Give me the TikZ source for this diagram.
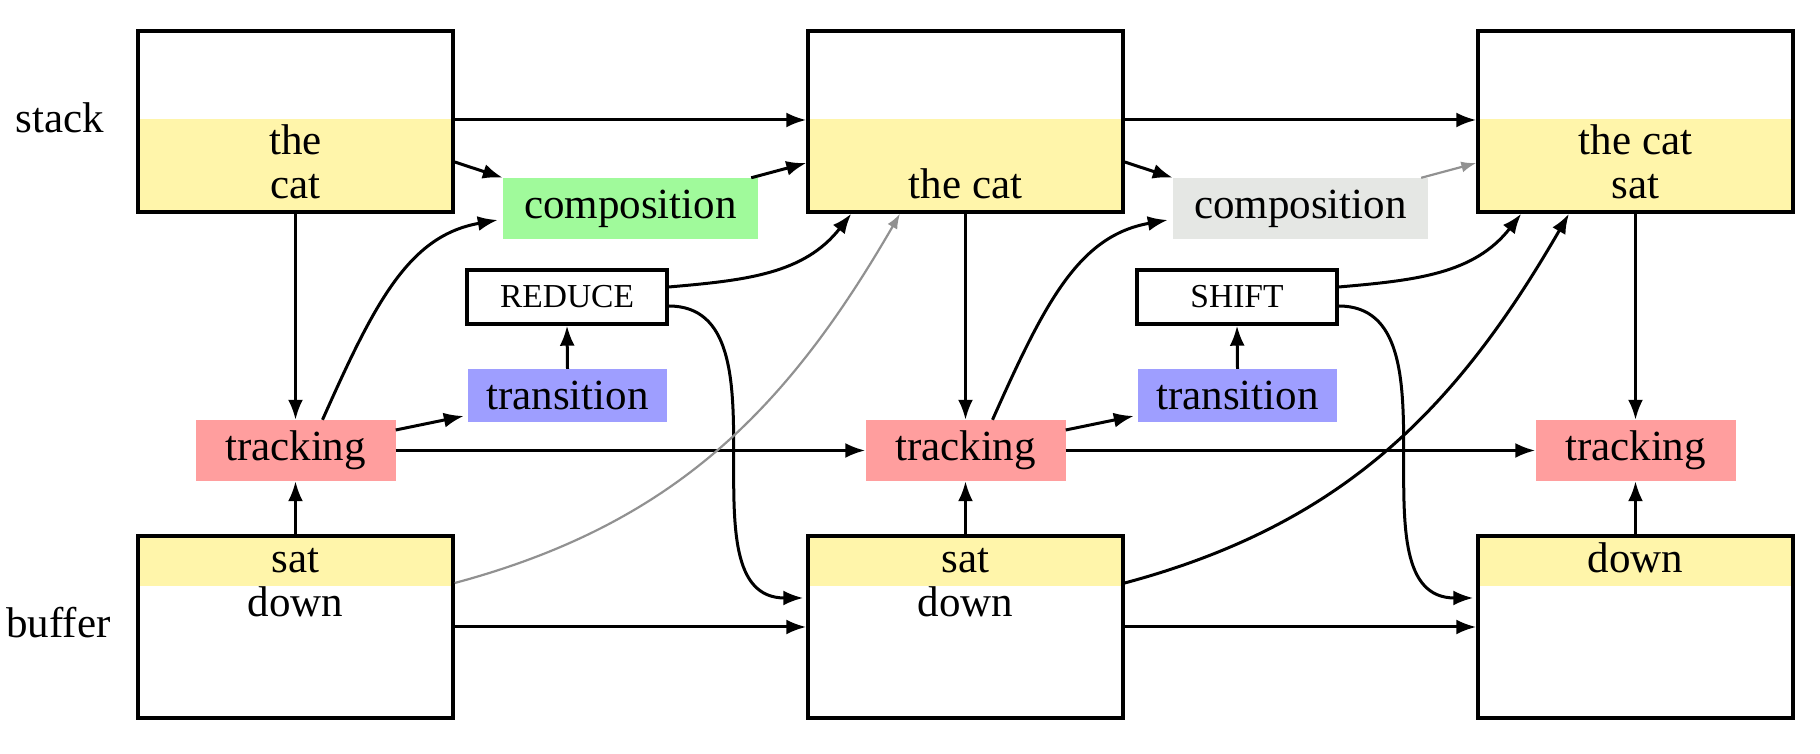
\documentclass[tikz,border=0pt]{standalone}
\usepackage{fontspec}
\setmainfont{Liberation Serif}
\usetikzlibrary{arrows.meta,calc}
\definecolor{yel}{RGB}{255,245,170}
\definecolor{greenc}{RGB}{160,250,155}
\definecolor{pinkc}{RGB}{255,158,158}
\definecolor{bluec}{RGB}{158,158,255}
\definecolor{grayc}{RGB}{229,231,228}
\definecolor{garrc}{RGB}{145,145,145}
\newcommand\mybigfont{\fontsize{43}{44}\selectfont}
\newcommand\mysmallcapsfont{\fontsize{33.5}{34}\selectfont}
\begin{document}
\begin{tikzpicture}[x=1pt,y=1pt,
  box/.style={draw, line width=3.4pt, minimum width=315pt, minimum height=181pt, inner sep=0pt},
  lab/.style={inner sep=0pt, font=\mybigfont, align=center},
  fbox/.style={inner sep=0pt, minimum height=61pt, font=\mybigfont},
  opbox/.style={draw, line width=3.4pt, minimum width=200pt, minimum height=54pt, inner sep=0pt, font=\mysmallcapsfont},
  arr/.style={-{Latex[length=20pt,width=15pt]}, line width=3pt},
  garr/.style={-{Latex[length=15pt,width=11pt]}, line width=2.2pt, draw=garrc}]
\useasboundingbox (0,0) rectangle (1820,754);
% yellow bands
\fill[yel] (138,542) rectangle (453,635);
\fill[yel] (808,542) rectangle (1123,635);
\fill[yel] (1478,542) rectangle (1793,635);
\fill[yel] (138,168) rectangle (453,218);
\fill[yel] (808,168) rectangle (1123,218);
\fill[yel] (1478,168) rectangle (1793,218);
% boxes
\node[box] (s1) at (295.5,632.5) {};
\node[box] (s2) at (965.5,632.5) {};
\node[box] (s3) at (1635.5,632.5) {};
\node[box, minimum height=182pt] (b1) at (295.5,127) {};
\node[box, minimum height=182pt] (b2) at (965.5,127) {};
\node[box, minimum height=182pt] (b3) at (1635.5,127) {};
% box texts
\node[lab] (s1t) at (295.5,591.7) {the\\cat};
\node[lab, anchor=base] (s2t) at (965.5,555) {the cat};
\node[lab] (s3t) at (1635.5,591.7) {the cat\\sat};
\node[lab] (b1t) at (295.5,171.5) {sat\\down};
\node[lab] (b2t) at (965.5,171.5) {sat\\down};
\node[lab, anchor=base] (b3t) at (1635.5,181) {down};
% side labels
\node[lab, anchor=base] (stk) at (59.5,621) {stack};
\node[lab, anchor=base] (buf) at (58.5,116) {buffer};
% tracking
\node[fbox, fill=pinkc, minimum width=200pt] (t1) at (295.5,303.5) {tracking};
\node[fbox, fill=pinkc, minimum width=200pt] (t2) at (965.5,303.5) {tracking};
\node[fbox, fill=pinkc, minimum width=200pt] (t3) at (1635.5,303.5) {tracking};
% composition
\node[fbox, fill=greenc, minimum width=255pt] (c1) at (630.5,545.5) {composition};
\node[fbox, fill=grayc, minimum width=255pt] (c2) at (1300.5,545.5) {composition};
% ops
\node[opbox] (r1) at (567,457) {REDUCE};
\node[opbox] (r2) at (1237,457) {SHIFT};
% transition
\node[fbox, fill=bluec, minimum width=199pt, minimum height=53pt] (tr1) at (567.5,358.5) {transition};
\node[fbox, fill=bluec, minimum width=199pt, minimum height=53pt] (tr2) at (1237.5,358.5) {transition};
% column 1 connectors
\draw[arr] ([yshift=1.5pt]s1.east) -- ([yshift=1.5pt]s2.west);
\draw[arr] ([yshift=-40.5pt]s1.east) -- (c1.north west);
\draw[arr] ([xshift=-7pt]c1.north east) -- ([yshift=-41.5pt]s2.west);
\draw[arr] (s1.south) -- (t1.north);
\draw[arr] (b1.north) -- (t1.south);
\draw[arr] ([xshift=27pt]t1.north) .. controls +(66:130) and +(190:90) .. ([xshift=-5pt,yshift=-11.5pt]c1.west);
\draw[arr] ([yshift=20.5pt]t1.east) -- ([xshift=-4pt,yshift=-20.5pt]tr1.west);
\draw[arr] (t1.east) -- (t2.west);
\draw[arr] (tr1.north) -- (r1.south);
\draw[arr] ([yshift=10pt]r1.east) to[out=5,in=232] ([xshift=45pt]s2.south west);
\draw[arr] ([yshift=-9pt]r1.east) to[out=0,in=180] ([xshift=-3pt,yshift=29pt]b2.west);
\draw[garr] ([yshift=44pt]b1.east) to[out=15,in=240] ([xshift=-65.5pt]s2.south);
\draw[arr] (b1.east) -- (b2.west);
% column 2 connectors
\draw[arr] ([yshift=1.5pt]s2.east) -- ([yshift=1.5pt]s3.west);
\draw[arr] ([yshift=-40.5pt]s2.east) -- (c2.north west);
\draw[garr] ([xshift=-7pt]c2.north east) -- ([yshift=-41.5pt]s3.west);
\draw[arr] (s2.south) -- (t2.north);
\draw[arr] (b2.north) -- (t2.south);
\draw[arr] ([xshift=27pt]t2.north) .. controls +(66:130) and +(190:90) .. ([xshift=-5pt,yshift=-11.5pt]c2.west);
\draw[arr] ([yshift=20.5pt]t2.east) -- ([xshift=-4pt,yshift=-20.5pt]tr2.west);
\draw[arr] (t2.east) -- (t3.west);
\draw[arr] (tr2.north) -- (r2.south);
\draw[arr] ([yshift=10pt]r2.east) to[out=5,in=232] ([xshift=45pt]s3.south west);
\draw[arr] ([yshift=-9pt]r2.east) to[out=0,in=180] ([xshift=-3pt,yshift=29pt]b3.west);
\draw[arr] ([yshift=44pt]b2.east) to[out=15,in=240] ([xshift=-66.5pt]s3.south);
\draw[arr] (b2.east) -- (b3.west);
% column 3
\draw[arr] (s3.south) -- (t3.north);
\draw[arr] (b3.north) -- (t3.south);
\end{tikzpicture}
\end{document}
